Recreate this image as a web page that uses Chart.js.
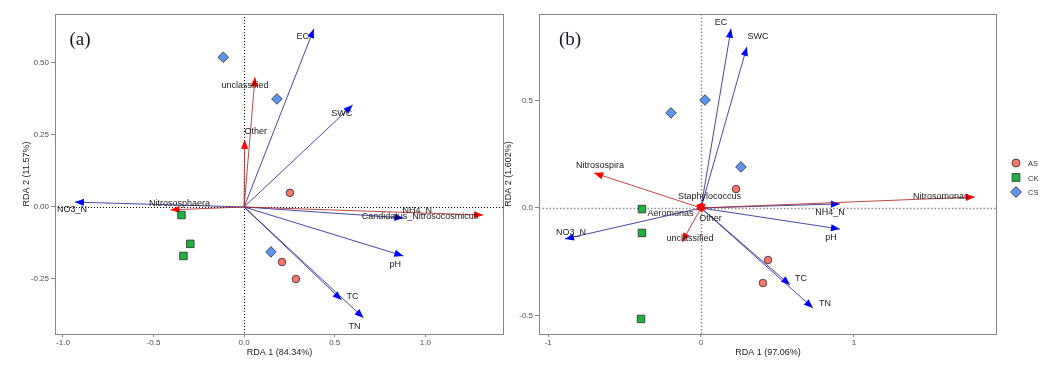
<!DOCTYPE html>
<html><head><meta charset="utf-8">
<script src="https://cdn.jsdelivr.net/npm/chart.js@4.4.1/dist/chart.umd.min.js"></script>
<style>
html,body{margin:0;padding:0;background:#fff;}
#wrap{position:relative;width:1058px;height:367px;overflow:hidden;background:#fff;}
#ca{position:absolute;left:0;top:0;}
#cb{position:absolute;left:500px;top:0;}
</style></head><body>
<div id="wrap">
<canvas id="ca" width="510" height="367"></canvas>
<canvas id="cb" width="558" height="367"></canvas>
</div>
<script>
// ---------- DATA ----------
const groups = ['AS', 'CK', 'CS'];

// Panel (a) samples
const aAS_x = [0.253, 0.209, 0.286];
const aAS_y = [0.049, -0.191, -0.250];
const aCK_x = [-0.346, -0.297, -0.335];
const aCK_y = [-0.028, -0.128, -0.170];
const aCS_x = [-0.115, 0.181, 0.148];
const aCS_y = [0.520, 0.375, -0.156];
// Panel (a) environmental arrows
const aEnvNames = ['EC', 'SWC', 'NO3_N', 'NH4_N', 'pH', 'TC', 'TN'];
const aEnvX = [0.385, 0.599, -0.934, 0.879, 0.879, 0.538, 0.659];
const aEnvY = [0.618, 0.354, 0.017, -0.038, -0.170, -0.323, -0.385];
// Panel (a) taxa arrows
const aTaxaNames = ['unclassified', 'Other', 'Nitrososphaera', 'Candidatus_Nitrosocosmicus'];
const aTaxaX = [0.060, 0.003, -0.407, 1.319];
const aTaxaY = [0.450, 0.233, -0.010, -0.028];
// Panel (a) axes
const aXTicks = [-1.0, -0.5, 0.0, 0.5, 1.0];
const aYTicks = [-0.25, 0.00, 0.25, 0.50];
const aXTitle = 'RDA 1 (84.34%)';
const aYTitle = 'RDA 2 (11.57%)';

// Panel (b) samples
const bAS_x = [0.229, 0.438, 0.405];
const bAS_y = [0.088, -0.242, -0.349];
const bCK_x = [-0.386, -0.386, -0.392];
const bCK_y = [-0.005, -0.116, -0.516];
const bCS_x = [-0.196, 0.026, 0.261];
const bCS_y = [0.442, 0.502, 0.191];
// Panel (b) environmental arrows
const bEnvNames = ['EC', 'SWC', 'NO3_N', 'NH4_N', 'pH', 'TC', 'TN'];
const bEnvX = [0.196, 0.300, -0.889, 0.908, 0.908, 0.582, 0.732];
const bEnvY = [0.833, 0.749, -0.144, 0.019, -0.098, -0.358, -0.465];
// Panel (b) taxa arrows
const bTaxaNames = ['Nitrosospira', 'Staphylococcus', 'Aeromonas', 'Other', 'unclassified', 'Nitrosomonas'];
const bTaxaX = [-0.699, 0.030, -0.030, 0.010, -0.124, 1.790];
const bTaxaY = [0.163, 0.020, -0.010, -0.020, -0.158, 0.051];
// Panel (b) axes
const bXTicks = [-1, 0, 1];
const bYTicks = [-0.5, 0.0, 0.5];
const bXTitle = 'RDA 1 (97.06%)';
const bYTitle = 'RDA 2 (1.602%)';

// ---------- STYLE / LAYOUT ----------
const FONT = '"Liberation Sans", Arial, sans-serif';
const groupStyle = {
  AS: {bg: '#F8766D', shape: 'circle', r: 3.8},
  CK: {bg: '#1DB340', shape: 'rect', r: 5.3},
  CS: {bg: '#5E95EE', shape: 'rectRot', r: 5.3}
};
const aLabelOff = {EC:[-11,8], SWC:[-11,8], NO3_N:[-3,7], NH4_N:[14,-7], pH:[-8,9], TC:[11,-3], TN:[-9,9],
  unclassified:[-10,8], Other:[11,-8], Nitrososphaera:[9,-6], Candidatus_Nitrosocosmicus:[-63,1]};
const bLabelOff = {EC:[-10,-6], SWC:[11,-10], NO3_N:[6,-6], NH4_N:[-10,9], pH:[-9,8], TC:[11,-6], TN:[12,-4],
  Nitrosospira:[6,-7], Staphylococcus:[4,-7], Aeromonas:[-26,3], Other:[8,6], unclassified:[8,-3], Nitrosomonas:[-34,0]};

function pts(xs, ys) { return xs.map((v, i) => ({x: v, y: ys[i]})); }

function ds(name, xs, ys) {
  const s = groupStyle[name];
  return {label: name, data: pts(xs, ys), pointStyle: s.shape, pointRadius: s.r, pointHoverRadius: s.r,
    backgroundColor: s.bg, borderColor: '#2a2a2a', borderWidth: 0.8, showLine: false};
}

function drawArrow(ctx, x0, y0, x1, y1, lineColor, headColor) {
  ctx.strokeStyle = lineColor; ctx.lineWidth = 1;
  ctx.beginPath(); ctx.moveTo(x0, y0); ctx.lineTo(x1, y1); ctx.stroke();
  const a = Math.atan2(y1 - y0, x1 - x0), L = 9, w = 3.6;
  const bx = x1 - L * Math.cos(a), by = y1 - L * Math.sin(a);
  ctx.fillStyle = headColor;
  ctx.beginPath();
  ctx.moveTo(x1, y1);
  ctx.lineTo(bx - w * Math.sin(a), by + w * Math.cos(a));
  ctx.lineTo(bx + w * Math.sin(a), by - w * Math.cos(a));
  ctx.closePath(); ctx.fill();
}

function symbol(ctx, shape, x, y, r, bg) {
  ctx.fillStyle = bg; ctx.strokeStyle = '#2a2a2a'; ctx.lineWidth = 0.8;
  ctx.beginPath();
  if (shape === 'circle') ctx.arc(x, y, r, 0, Math.PI * 2);
  else if (shape === 'rect') ctx.rect(x - r * 0.707, y - r * 0.707, r * 1.414, r * 1.414);
  else { ctx.moveTo(x - r, y); ctx.lineTo(x, y - r); ctx.lineTo(x + r, y); ctx.lineTo(x, y + r); ctx.closePath(); }
  ctx.fill(); ctx.stroke();
}

function rdaPlugin(cfg) {
  return {
    id: 'rda',
    beforeDatasetsDraw(chart) {
      const {ctx, chartArea: ca, scales: {x, y}} = chart;
      const x0 = x.getPixelForValue(0), y0 = y.getPixelForValue(0);
      ctx.save();
      ctx.strokeStyle = cfg.zeroColor; ctx.lineWidth = cfg.zeroWidth; ctx.setLineDash(cfg.zeroDash);
      ctx.beginPath();
      ctx.moveTo(Math.round(x0) + 0.5, ca.top); ctx.lineTo(Math.round(x0) + 0.5, ca.bottom);
      ctx.moveTo(ca.left, Math.round(y0) + 0.5); ctx.lineTo(ca.right, Math.round(y0) + 0.5);
      ctx.stroke();
      ctx.setLineDash([]);
      cfg.sets.forEach(s => s.names.forEach((n, i) => {
        drawArrow(ctx, x0, y0, x.getPixelForValue(s.xs[i]), y.getPixelForValue(s.ys[i]), s.line, s.head);
      }));
      ctx.restore();
    },
    afterDatasetsDraw(chart) {
      const {ctx, chartArea: ca, scales: {x, y}} = chart;
      ctx.save();
      ctx.font = '9px ' + FONT; ctx.fillStyle = '#1a1a1a';
      ctx.textAlign = 'center'; ctx.textBaseline = 'middle';
      cfg.sets.forEach(s => s.names.forEach((n, i) => {
        const o = cfg.off[n] || [0, 0];
        ctx.fillText(n, x.getPixelForValue(s.xs[i]) + o[0], y.getPixelForValue(s.ys[i]) + o[1]);
      }));
      // border
      ctx.strokeStyle = '#858585'; ctx.lineWidth = 1;
      ctx.strokeRect(Math.round(ca.left) + 0.5, Math.round(ca.top) + 0.5, Math.round(ca.right - ca.left) - 1, Math.round(ca.bottom - ca.top));
      // tag
      ctx.font = '19px "Liberation Serif", "Times New Roman", serif';
      ctx.fillStyle = '#15152a';
      ctx.fillText(cfg.tag, ca.left + cfg.tagDx, ca.top + 26);
      // legend
      if (cfg.legend) {
        const lx = ca.right + 19;
        groups.forEach((g, i) => {
          const st = groupStyle[g];
          const ly = 163 + i * 14.5;
          symbol(ctx, st.shape, lx, ly, st.shape === 'circle' ? 4 : (st.shape === 'rect' ? 5.5 : 5.5), st.bg);
          ctx.font = '7.5px ' + FONT; ctx.fillStyle = '#333'; ctx.textAlign = 'left';
          ctx.fillText(g, lx + 12, ly + 1);
        });
      }
      ctx.restore();
    }
  };
}

function axis(kind, min, max, ticksArr, dec, title, size, titlePad) {
  return {
    type: 'linear', min: min, max: max,
    afterBuildTicks: s => { s.ticks = ticksArr.map(v => ({value: v})); },
    afterFit: s => { if (kind === 'x') s.height = size; else s.width = size; },
    grid: {drawOnChartArea: false, drawTicks: true, tickLength: kind === 'x' ? 3 : 4, color: '#858585', lineWidth: 1},
    border: {display: false},
    ticks: {color: '#4d4d4d', font: {family: FONT, size: 8}, padding: kind === 'x' ? 1 : 2,
      maxRotation: 0, autoSkip: false, callback: v => Number(v).toFixed(dec)},
    title: {display: true, text: title, color: '#1a1a1a', font: {family: FONT, size: 9}, padding: titlePad}
  };
}

function makeChart(id, dsets, scales, padding, plug) {
  return new Chart(document.getElementById(id), {
    type: 'scatter',
    data: {datasets: dsets},
    options: {
      responsive: false, animation: false, devicePixelRatio: 1,
      layout: {padding: padding},
      plugins: {legend: {display: false}, tooltip: {enabled: false}},
      scales: scales
    },
    plugins: [plug]
  });
}

makeChart('ca',
  [ds('AS', aAS_x, aAS_y), ds('CK', aCK_x, aCK_y), ds('CS', aCS_x, aCS_y)],
  {x: axis('x', -1.044, 1.434, aXTicks, 1, aXTitle, 33, {top: 0, bottom: 9}),
   y: axis('y', -0.441, 0.670, aYTicks, 2, aYTitle, 38, {top: 4, bottom: 0})},
  {top: 14, right: 4, left: 17, bottom: 0},
  rdaPlugin({zeroColor: '#000', zeroWidth: 1, zeroDash: [1, 2], tag: '(a)', tagDx: 25, off: aLabelOff,
    sets: [{names: aEnvNames, xs: aEnvX, ys: aEnvY, line: 'rgba(40,40,150,0.85)', head: '#0000FF'},
           {names: aTaxaNames, xs: aTaxaX, ys: aTaxaY, line: 'rgba(175,40,40,0.85)', head: '#FF0000'}]})
);

makeChart('cb',
  [ds('AS', bAS_x, bAS_y), ds('CK', bCK_x, bCK_y), ds('CS', bCS_x, bCS_y)],
  {x: axis('x', -1.059, 1.935, bXTicks, 0, bXTitle, 33, {top: 0, bottom: 9}),
   y: axis('y', -0.586, 0.902, bYTicks, 1, bYTitle, 39, {top: 3, bottom: 0})},
  {top: 14, right: 61, left: 0, bottom: 0},
  rdaPlugin({zeroColor: '#8c8c8c', zeroWidth: 1.5, zeroDash: [1.5, 2], tag: '(b)', tagDx: 31, off: bLabelOff, legend: true,
    sets: [{names: bEnvNames, xs: bEnvX, ys: bEnvY, line: 'rgba(40,40,150,0.85)', head: '#0000FF'},
           {names: bTaxaNames, xs: bTaxaX, ys: bTaxaY, line: 'rgba(175,40,40,0.85)', head: '#FF0000'}]})
);
</script>
</body></html>
